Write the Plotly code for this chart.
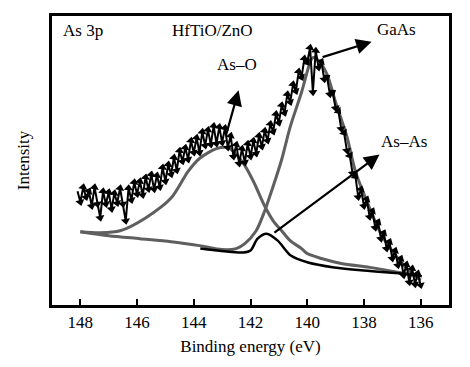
import plotly.graph_objects as go

# ---- measured spectrum (binding energy in eV, intensity in arbitrary units) ----
energy = [round(148.1 - 0.1 * i, 1) for i in range(122)]
intensity = [
    115, 104, 119, 109, 115, 100, 119, 102, 88, 115,
    102, 114, 97, 113, 103, 118, 102, 85, 118, 106,
    124, 112, 125, 111, 129, 117, 132, 117, 131, 119,
    139, 125, 142, 132, 149, 136, 156, 145, 159, 147,
    166, 154, 169, 154, 175, 161, 177, 162, 181, 163,
    180, 164, 179, 159, 171, 150, 162, 143, 158, 144,
    163, 150, 166, 153, 171, 160, 176, 166, 183, 175,
    193, 184, 202, 194, 213, 205, 223, 216, 236, 230,
    249, 245, 260, 215, 257, 240, 246, 228, 230, 213,
    215, 199, 196, 178, 174, 156, 151, 133, 130, 109,
    117, 100, 107, 89, 95, 78, 84, 67, 73, 57,
    64, 47, 55, 40, 47, 30, 41, 23, 37, 21,
    32, 20,
]

# ---- fitted components (each including background) ----
gaas_e = [148.0, 147.0, 145.9, 144.8, 143.8, 143.0, 142.5, 142.2, 141.8, 141.5,
          141.2, 140.9, 140.6, 140.2, 139.9, 139.8, 139.6, 139.3, 139.0, 138.6,
          138.3, 137.9, 137.4, 136.8, 136.3, 136.0]
gaas_i = [74, 70, 67, 64, 60, 56, 57, 62, 75, 95,
          120, 147, 180, 215, 245, 250, 247, 233, 205, 170,
          135, 105, 72, 47, 32, 25]

aso_e = [148.0, 147.3, 146.6, 145.7, 144.8, 144.2, 143.8, 143.2, 142.8, 142.6,
         142.25, 141.9, 141.5, 141.2, 140.9, 140.6, 140.2, 140.0, 139.5, 138.8,
         137.8, 136.8, 136.2]
aso_i = [74, 73, 75, 88, 108, 135, 148, 158, 159, 155,
         143, 125, 100, 85, 75, 65, 57, 52, 47, 42,
         38, 33, 30]

asas_e = [143.77, 142.25, 142.0, 141.75, 141.43, 141.04, 140.58, 139.97, 139.05,
          138.1, 136.77, 135.96]
asas_i = [57, 53, 55, 67, 72, 65, 50, 43, 38, 35, 32, 29]

tick_vals = [148, 146, 144, 142, 140, 138, 136]

FONT = "Liberation Serif"
GRAY = "#5f5f5f"

fig = go.Figure()

fig.add_trace(go.Scatter(x=gaas_e, y=gaas_i, mode="lines",
                         line=dict(color=GRAY, width=3, shape="spline", smoothing=0.8),
                         hoverinfo="skip", showlegend=False))
fig.add_trace(go.Scatter(x=aso_e, y=aso_i, mode="lines",
                         line=dict(color=GRAY, width=3, shape="spline", smoothing=0.8),
                         hoverinfo="skip", showlegend=False))
fig.add_trace(go.Scatter(x=asas_e, y=asas_i, mode="lines",
                         line=dict(color="black", width=2.5, shape="spline", smoothing=0.8),
                         hoverinfo="skip", showlegend=False))
fig.add_trace(go.Scatter(x=energy, y=intensity, mode="lines+markers",
                         line=dict(color="black", width=2),
                         marker=dict(symbol="triangle-up", size=8, color="black",
                                     angleref="previous"),
                         showlegend=False))

# arrows (head at x/y, tail at ax/ay)
arrows = [
    (142.42, 217, 142.88, 170),
    (137.73, 266, 139.51, 250),
    (137.45, 152, 141.21, 72),
]
for hx, hy, tx, ty in arrows:
    fig.add_annotation(x=hx, y=hy, ax=tx, ay=ty, xref="x", yref="y",
                       axref="x", ayref="y", text="", showarrow=True,
                       arrowhead=2, arrowsize=1.4, arrowwidth=2.2,
                       arrowcolor="black")

labels = [
    ("As 3p", 148.7, 277, "left"),
    ("HfTiO/ZnO", 143.35, 277, "center"),
    ("GaAs", 136.85, 278, "center"),
    ("As\u2013O", 142.46, 243, "center"),
    ("As\u2013As", 136.6, 165, "center"),
]
for txt, lx, ly, anchor in labels:
    fig.add_annotation(x=lx, y=ly, xref="x", yref="y", text=txt,
                       showarrow=False, xanchor=anchor, yanchor="middle",
                       font=dict(family=FONT, size=17, color="black"))

# the page body adds an 8px offset; margins compensate so the frame sits at 52..449 x 13..305
fig.update_layout(
    width=454, height=351,
    margin=dict(l=44, r=13, t=5, b=54),
    paper_bgcolor="white", plot_bgcolor="white",
    font=dict(family=FONT, size=17, color="black"),
)
fig.update_xaxes(range=[149, 135], tickvals=tick_vals,
                 ticktext=[str(v) for v in tick_vals],
                 ticks="inside", ticklen=6, tickwidth=2, tickcolor="black",
                 showline=True, linewidth=3, linecolor="black", mirror=True,
                 showgrid=False, zeroline=False,
                 title=dict(text="Binding energy (eV)", standoff=9,
                            font=dict(family=FONT, size=17)),
                 tickfont=dict(family=FONT, size=17))
fig.update_yaxes(range=[0, 292], showticklabels=False, ticks="",
                 showline=True, linewidth=3, linecolor="black", mirror=True,
                 showgrid=False, zeroline=False,
                 title=dict(text="Intensity", standoff=16,
                            font=dict(family=FONT, size=17)))

fig.write_html("out.html")
